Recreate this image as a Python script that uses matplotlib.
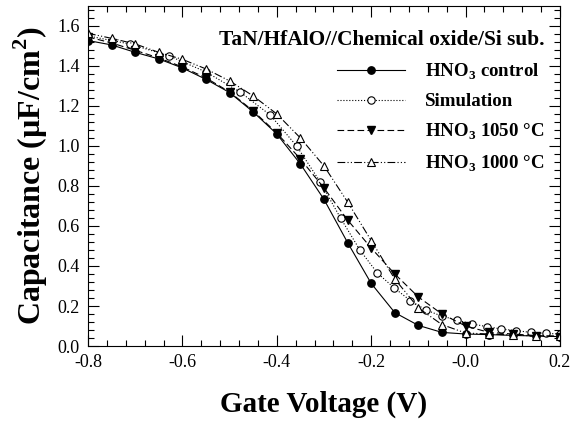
import matplotlib
matplotlib.use("Agg")
import matplotlib.pyplot as plt
from matplotlib.ticker import MultipleLocator

plt.rcParams['font.family'] = ['Liberation Serif', 'DejaVu Serif']
plt.rcParams['mathtext.fontset'] = 'custom'
plt.rcParams['mathtext.rm'] = 'Liberation Serif'
plt.rcParams['mathtext.bf'] = 'Liberation Serif:bold'
plt.rcParams['axes.unicode_minus'] = False

# === data ===
gate_v = [-0.80, -0.75, -0.70, -0.65, -0.60, -0.55, -0.50, -0.45, -0.40, -0.35, -0.30,
          -0.25, -0.20, -0.15, -0.10, -0.05, 0.00, 0.05, 0.10, 0.15, 0.20]
cap_control = [1.527, 1.505, 1.468, 1.435, 1.39, 1.333, 1.267, 1.17, 1.06, 0.91, 0.733,
               0.517, 0.313, 0.167, 0.103, 0.068, 0.06, 0.057, 0.053, 0.05, 0.047]
cap_1050 = [1.545, 1.515, 1.478, 1.44, 1.395, 1.34, 1.27, 1.175, 1.065, 0.935, 0.79,
            0.63, 0.49, 0.36, 0.245, 0.16, 0.10, 0.068, 0.06, 0.052, 0.047]
cap_1000 = [1.563, 1.538, 1.51, 1.468, 1.433, 1.385, 1.325, 1.25, 1.16, 1.04, 0.90,
            0.72, 0.527, 0.335, 0.19, 0.107, 0.065, 0.06, 0.055, 0.05, 0.05]

sim_v = [-0.80, -0.712, -0.628, -0.55, -0.478, -0.414, -0.358, -0.308, -0.265, -0.224,
         -0.187, -0.151, -0.117, -0.084, -0.051, -0.019, 0.014, 0.045, 0.076, 0.107,
         0.138, 0.17, 0.20]
sim_cap = [1.55, 1.51, 1.45, 1.37, 1.27, 1.155, 1.0, 0.82, 0.64, 0.48,
           0.365, 0.29, 0.227, 0.18, 0.15, 0.13, 0.11, 0.097, 0.085, 0.077,
           0.068, 0.063, 0.06]

x_ticks = [-0.8, -0.6, -0.4, -0.2, 0.0, 0.2]
x_tick_labels = ["-0.8", "-0.6", "-0.4", "-0.2", "-0.0", "0.2"]

legend_title = "TaN/HfAlO//Chemical oxide/Si sub."
labels = [r"HNO$_\mathbf{3}$ control", "Simulation",
          r"HNO$_\mathbf{3}$ 1050 °C", r"HNO$_\mathbf{3}$ 1000 °C"]

# === figure ===
fig = plt.figure(figsize=(5.77, 4.23), dpi=100)
ax = fig.add_axes([0.1525, 0.182, 0.818, 0.804])

lw = 0.8
ax.plot(gate_v, cap_control, '-', color='black', lw=lw, marker='o', ms=5.3,
        mfc='black', mec='black', label=labels[0])
ax.plot(sim_v, sim_cap, ':', color='black', lw=lw, marker='o', ms=5.3,
        mfc='white', mec='black', mew=0.8, label=labels[1])
ax.plot(gate_v, cap_1050, color='black', lw=lw, linestyle=(0, (6, 3)), marker='v', ms=6,
        mfc='black', mec='black', label=labels[2])
ax.plot(gate_v, cap_1000, color='black', lw=lw, linestyle=(0, (7, 2, 1, 2, 1, 2)),
        marker='^', ms=6, mfc='white', mec='black', mew=0.8, label=labels[3])

ax.set_xlim(-0.8, 0.2)
ax.set_ylim(0.0, 1.7)
ax.set_xticks(x_ticks)
ax.set_xticklabels(x_tick_labels)
ax.xaxis.set_minor_locator(MultipleLocator(0.04))
ax.yaxis.set_major_locator(MultipleLocator(0.2))
ax.yaxis.set_minor_locator(MultipleLocator(0.04))
ax.yaxis.set_major_formatter(matplotlib.ticker.FormatStrFormatter('%.1f'))

ax.tick_params(which='both', direction='in', top=True, right=True, labelsize=13)
ax.tick_params(which='major', length=8, width=0.8)
ax.tick_params(which='minor', length=4, width=0.8)
ax.tick_params(axis='x', pad=6)
ax.tick_params(axis='y', pad=6)
for s in ax.spines.values():
    s.set_linewidth(0.8)

ax.set_xlabel("Gate Voltage (V)", fontsize=21, fontweight='bold', labelpad=14)
ax.set_ylabel(r"Capacitance (µF/cm$^\mathbf{2}$)", fontsize=23, fontweight='bold', labelpad=5)

leg = ax.legend(loc='upper right', bbox_to_anchor=(0.975, 0.94), frameon=False,
                title=legend_title, alignment='right',
                prop={'weight': 'bold', 'size': 13.6},
                title_fontproperties={'weight': 'bold', 'size': 15.4},
                handlelength=3.6, handletextpad=1.06, labelspacing=0.6,
                borderaxespad=0, borderpad=0.2)

fig.savefig("out.png", dpi=100)
